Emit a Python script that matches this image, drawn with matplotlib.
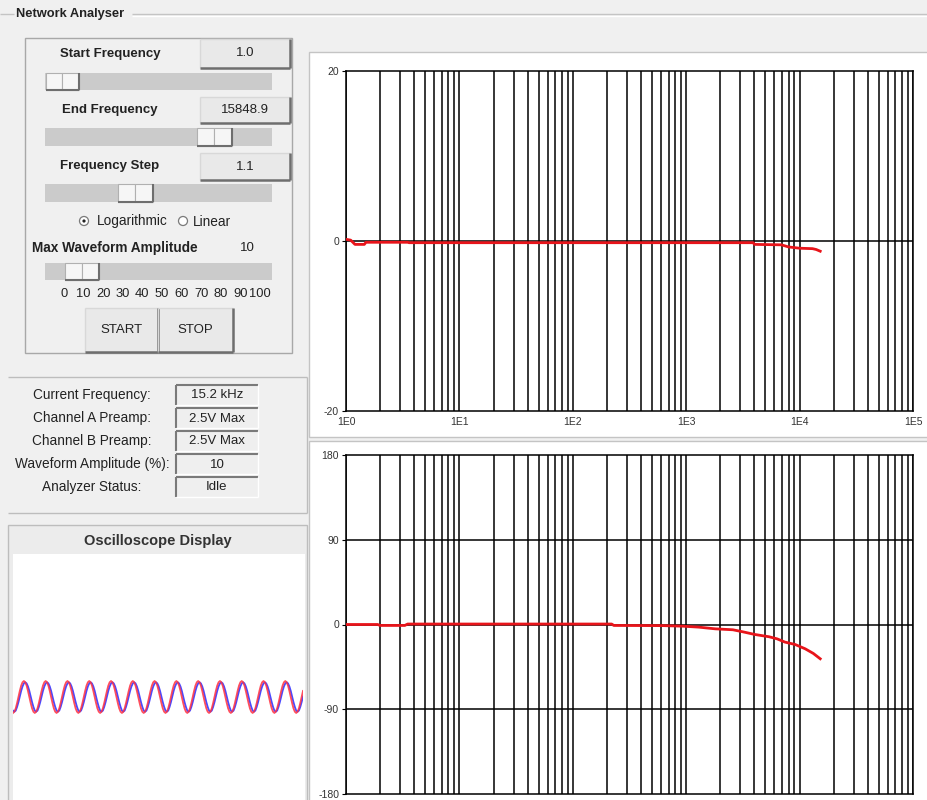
import numpy as np
import matplotlib.pyplot as plt
from matplotlib.patches import Rectangle, Circle

plt.rcParams["font.family"] = ["Liberation Sans", "DejaVu Sans"]

# --- データ ---
# 振幅特性 [dB]
mag_freq = [1.0, 1.1, 1.2, 1.45, 1.5, 3.5, 3.6, 3900, 4000, 6900, 8000, 10000, 13000, 14000, 15200]
mag_db = [0.2, 0.1, -0.4, -0.4, -0.15, -0.15, -0.2, -0.2, -0.4, -0.45, -0.7, -0.85, -0.9, -1.0, -1.2]

# 位相特性 [deg]
phase_freq = [1.0, 1.9, 2.0, 3.3, 3.5, 220, 230, 630, 940, 1290, 1800, 2580, 3170,
              4030, 5370, 6320, 7430, 9120, 11200, 13200, 15200]
phase_deg = [0, 0, -1, -1, 0.5, 0.5, -1, -1.2, -1.8, -2.8, -4.6, -5.6, -7.8,
             -10.6, -13, -15.2, -18.7, -21.2, -25.8, -30.7, -36.4]

mag_ticks = [20, 0, -20]
phase_ticks = [180, 90, 0, -90, -180]
decade_labels = ["1E0", "1E1", "1E2", "1E3", "1E4", "1E5"]

# 操作パネルの表示
control_labels = ["Start Frequency", "End Frequency", "Frequency Step"]
control_values = ["1.0", "15848.9", "1.1"]
amp_scale = ["0", "10", "20", "30", "40", "50", "60", "70", "80", "90", "100"]
status_labels = ["Current Frequency:", "Channel A Preamp:", "Channel B Preamp:",
                 "Waveform Amplitude (%):", "Analyzer Status:"]
status_values = ["15.2 kHz", "2.5V Max", "2.5V Max", "10", "Idle"]

# オシロスコープ: 1周期ぶんのサンプル (16点) と表示周期数
scope_a = [0, 0.38, 0.71, 0.92, 1.0, 0.92, 0.71, 0.38, 0, -0.38, -0.71, -0.92, -1.0, -0.92, -0.71, -0.38]
scope_b = [-0.32, 0.03, 0.38, 0.66, 0.85, 0.92, 0.85, 0.66, 0.38, 0.03, -0.32, -0.62, -0.85, -0.92, -0.85, -0.62]
scope_cycles = 13.4

W, H = 927, 800
TXT = "#222222"
fig = plt.figure(figsize=(W / 100, H / 100), dpi=100)
fig.patch.set_facecolor("#f0f0f0")

# 背景用 (ピクセル座標)
bg = fig.add_axes([0, 0, 1, 1])
bg.set_xlim(0, W)
bg.set_ylim(H, 0)
bg.axis("off")


def hline(x0, x1, y, c, lw=1.0):
    bg.plot([x0, x1], [y, y], color=c, lw=lw, solid_capstyle="butt")


def vline(x, y0, y1, c, lw=1.0):
    bg.plot([x, x], [y0, y1], color=c, lw=lw, solid_capstyle="butt")


def frame(x0, y0, x1, y1, face="none", edge="#bdbdbd"):
    bg.add_patch(Rectangle((x0, y0), x1 - x0, y1 - y0, facecolor=face, edgecolor=edge, lw=1))


def button(x0, y0, x1, y1, text, size=9.5):
    bg.add_patch(Rectangle((x0, y0), x1 - x0, y1 - y0, facecolor="#e9e9e9", edgecolor="none"))
    hline(x0, x1, y0, "#d8d8d8")
    vline(x0, y0, y1, "#d8d8d8")
    hline(x0, x1, y1, "#6e6e6e", 1.8)
    vline(x1, y0, y1, "#6e6e6e", 1.8)
    bg.text((x0 + x1) / 2, (y0 + y1) / 2, text, ha="center", va="center", fontsize=size, color=TXT)


def sunken(x0, y0, x1, y1, text):
    bg.add_patch(Rectangle((x0, y0), x1 - x0, y1 - y0, facecolor="#efefef", edgecolor="none"))
    hline(x0, x1, y0, "#7a7a7a", 1.5)
    vline(x0, y0, y1, "#7a7a7a", 1.5)
    hline(x0, x1, y1, "#ffffff")
    vline(x1, y0, y1, "#ffffff")
    bg.text((x0 + x1) / 2, (y0 + y1) / 2 + 0.5, text, ha="center", va="center", fontsize=9.5, color=TXT)


def slider(x0, y0, x1, y1, t0, t1):
    bg.add_patch(Rectangle((x0, y0), x1 - x0, y1 - y0, facecolor="#cbcbcb", edgecolor="none"))
    tm = (t0 + t1) / 2
    for a, b in [(t0, tm), (tm, t1)]:
        bg.add_patch(Rectangle((a, y0), b - a, y1 - y0, facecolor="#f6f6f6", edgecolor="#b0b0b0", lw=0.8))
    hline(t0, t1, y1, "#6e6e6e", 1.5)
    vline(t1, y0, y1, "#6e6e6e", 1.5)


# グループ枠 "Network Analyser"
hline(0, 14, 14, "#c4c4c4")
hline(132, W, 14, "#c4c4c4")
hline(132, W, 15.5, "#ffffff")
bg.text(16, 14, "Network Analyser", ha="left", va="center", fontsize=9.3, fontweight="bold", color=TXT)

# 操作パネル
frame(25, 38, 292, 353, edge="#a8a8a8")
rows = [(54, 39, 68, 73, 90, 46, 79), (110, 97, 123, 128, 146, 197, 232), (166, 153, 180, 184, 202, 118, 153)]
for (ty, by0, by1, sy0, sy1, t0, t1), lab, val in zip(rows, control_labels, control_values):
    bg.text(110, ty, lab, ha="center", va="center", fontsize=9.5, fontweight="bold", color=TXT)
    button(200, by0, 290, by1, val)
    slider(45, sy0, 272, sy1, t0, t1)

# ラジオボタン
bg.add_patch(Circle((84, 221), 4.5, facecolor="white", edgecolor="#7a7a7a", lw=0.9))
bg.add_patch(Circle((84, 221), 1.6, facecolor=TXT, edgecolor="none"))
bg.text(97, 221.5, "Logarithmic", ha="left", va="center", fontsize=9.8, color=TXT)
bg.add_patch(Circle((183, 221), 4.5, facecolor="white", edgecolor="#7a7a7a", lw=0.9))
bg.text(193, 221.5, "Linear", ha="left", va="center", fontsize=9.8, color=TXT)

bg.text(32, 248, "Max Waveform Amplitude", ha="left", va="center", fontsize=9.8, fontweight="bold", color=TXT)
bg.text(247, 248, "10", ha="center", va="center", fontsize=9.5, color=TXT)
slider(45, 263, 272, 280, 65, 99)
for i, lab in enumerate(amp_scale):
    bg.text(64 + i * 19.6, 294, lab, ha="center", va="center", fontsize=9.3, color=TXT)

button(85, 308, 158, 352, "START")
button(158, 308, 233, 352, "STOP")

# ステータス表示
hline(8, 307, 377, "#bdbdbd")
vline(307, 377, 513, "#bdbdbd")
hline(8, 307, 513, "#bdbdbd")
for i, (lab, val) in enumerate(zip(status_labels, status_values)):
    y = 395 + i * 23
    bg.text(92, y, lab, ha="center", va="center", fontsize=9.8, color=TXT)
    sunken(176, y - 10, 258, y + 10, val)

# オシロスコープ表示
frame(8, 525, 307, 801, face="#ececec")
bg.add_patch(Rectangle((13, 554), 292, 250, facecolor="white", edgecolor="none"))
bg.text(158, 541, "Oscilloscope Display", ha="center", va="center", fontsize=10.5, fontweight="bold", color="#333333")

# プロット用パネル
frame(309, 52, 930, 437, face="white", edge="#c4c4c4")
frame(309, 441, 930, 803, face="white", edge="#c4c4c4")


def px_axes(x0, y0, x1, y1):
    return fig.add_axes([x0 / W, 1 - y1 / H, (x1 - x0) / W, (y1 - y0) / H])


grid_freqs = [k * 10.0 ** n for n in range(5) for k in range(1, 10)] + [1e5]


def bode_axes(ax, ticks, hlines):
    ax.set_xscale("log")
    ax.set_xlim(1, 1e5)
    ax.set_ylim(ticks[-1], ticks[0])
    ax.set_facecolor("white")
    for f in grid_freqs:
        ax.axvline(f, color="black", lw=1.1, zorder=1)
    for h in hlines:
        ax.axhline(h, color="black", lw=1.1, zorder=1)
    for s in ax.spines.values():
        s.set_color("black")
        s.set_linewidth(1.1)
    ax.set_yticks(ticks)
    ax.set_yticklabels([str(t) for t in ticks], fontsize=7.5, color="#333333")
    ax.tick_params(axis="y", length=3, pad=2)
    ax.xaxis.set_minor_locator(plt.NullLocator())


ax_mag = px_axes(346, 71, 913, 411)
bode_axes(ax_mag, mag_ticks, [0])
ax_mag.set_xticks([10.0 ** n for n in range(6)])
ax_mag.set_xticklabels(decade_labels, fontsize=7.5, color="#333333")
ax_mag.tick_params(axis="x", length=0, pad=4)
ax_mag.plot(mag_freq, mag_db, color="#e8141a", lw=2.0, zorder=3)

ax_ph = px_axes(346, 455, 913, 794)
bode_axes(ax_ph, phase_ticks, [90, 0, -90])
ax_ph.set_xticks([])
ax_ph.plot(phase_freq, phase_deg, color="#e8141a", lw=2.0, zorder=3)

# オシロスコープ波形
ax_sc = px_axes(13, 554, 303, 800)
ax_sc.axis("off")
n = int(scope_cycles * len(scope_a))
idx = (np.arange(n) + 12) % len(scope_a)
ax_sc.plot(np.arange(n), np.array(scope_b)[idx], color="#4a4aff", lw=1.3)
ax_sc.plot(np.arange(n), np.array(scope_a)[idx], color="#ff3040", lw=1.3, alpha=0.85)
ax_sc.set_xlim(0, n - 1)
ax_sc.set_ylim(-6.44, 8.94)

fig.savefig("out.png", dpi=100, facecolor=fig.get_facecolor())
